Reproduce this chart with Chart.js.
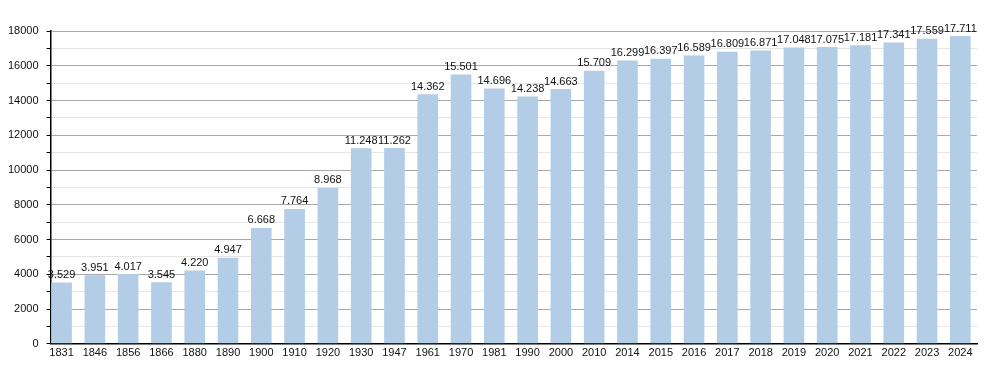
<!DOCTYPE html>
<html><head><meta charset="utf-8">
<script src="https://cdn.jsdelivr.net/npm/chart.js@4/dist/chart.umd.min.js"></script>
<style>html,body{margin:0;padding:0;background:#fff}#w{width:1000px;height:373px}</style>
</head><body><div id="w"><canvas id="c"></canvas></div>
<script>
const years = ['1831','1846','1856','1866','1880','1890','1900','1910','1920','1930','1947','1961','1970','1981','1990','2000','2010','2014','2015','2016','2017','2018','2019','2020','2021','2022','2023','2024'];
const population = [3529,3951,4017,3545,4220,4947,6668,7764,8968,11248,11262,14362,15501,14696,14238,14663,15709,16299,16397,16589,16809,16871,17048,17075,17181,17341,17559,17711];
const yTicks = [0,2000,4000,6000,8000,10000,12000,14000,16000,18000];

const fmt = v => String(v).replace(/\B(?=(\d{3})+(?!\d))/g, '.');

const valueLabels = {
  id: 'valueLabels',
  afterDatasetsDraw(chart) {
    const ctx = chart.ctx;
    const meta = chart.getDatasetMeta(0);
    ctx.save();
    ctx.font = '11px "Liberation Sans", Arial, sans-serif';
    ctx.fillStyle = '#111';
    ctx.textAlign = 'center';
    ctx.textBaseline = 'bottom';
    meta.data.forEach((bar, i) => {
      ctx.fillText(fmt(population[i]), bar.x, bar.y - 2);
    });
    ctx.restore();
  }
};

new Chart(document.getElementById('c'), {
  type: 'bar',
  data: {
    datasets: [{
      data: population.map((v, i) => ({x: i, y: v})),
      backgroundColor: '#b3cde6',
      borderWidth: 0,
      barPercentage: 0.62,
      categoryPercentage: 1
    }]
  },
  options: {
    responsive: true,
    maintainAspectRatio: false,
    animation: false,
    layout: {padding: {top: 31, right: 23, left: 0, bottom: 10}},
    plugins: {legend: {display: false}, tooltip: {enabled: false}},
    scales: {
      x: {
        type: 'linear',
        offset: false,
        min: -0.33,
        max: 27.5,
        afterBuildTicks: s => { s.ticks = years.map((_, i) => ({value: i})); },
        grid: {display: false, drawTicks: false},
        border: {display: true, color: '#000', width: 1.5},
        ticks: {
          autoSkip: false,
          maxRotation: 0,
          padding: 3,
          color: '#111',
          font: {family: '"Liberation Sans", Arial, sans-serif', size: 11},
          callback: v => years[v] || ''
        }
      },
      y: {
        min: 0,
        max: 18000,
        grid: {
          color: ctx => (ctx.tick && ctx.tick.value % 2000 === 0) ? '#a8a8a8' : '#e6e6e6',
          tickColor: '#000',
          tickLength: 4
        },
        border: {display: true, color: '#000', width: 1.5},
        ticks: {
          stepSize: 1000,
          autoSkip: false,
          padding: 8,
          color: '#111',
          font: {family: '"Liberation Sans", Arial, sans-serif', size: 11},
          callback: v => yTicks.includes(v) ? String(v) : ''
        }
      }
    }
  },
  plugins: [valueLabels]
});
</script>
</body></html>
